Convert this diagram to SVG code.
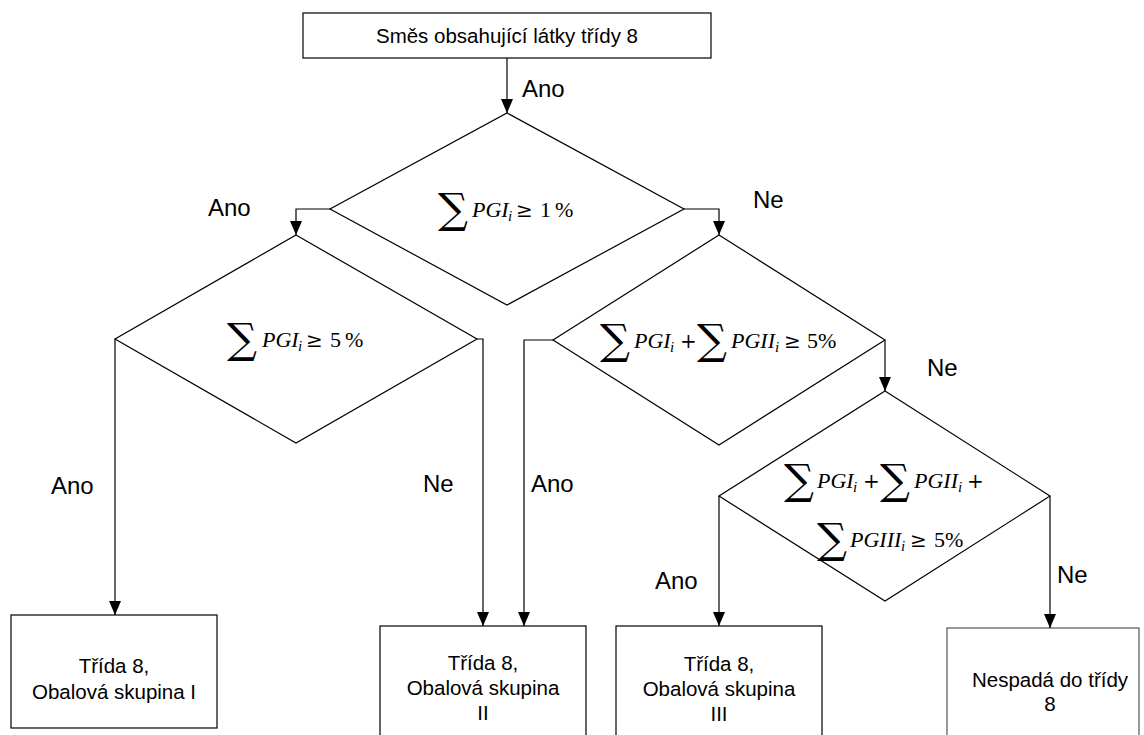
<svg xmlns="http://www.w3.org/2000/svg" width="1144" height="735" viewBox="0 0 1144 735">
<style>
.shape{fill:#fff;stroke:#000;stroke-width:1.2}
.conn{fill:none;stroke:#000;stroke-width:1.2}
.t{font-family:"Liberation Sans",Arial,sans-serif;font-size:20.5px;fill:#000;text-anchor:middle}
.lbl{font-family:"Liberation Sans",Arial,sans-serif;font-size:24px;fill:#000}
.m{font-family:"Liberation Serif","Times New Roman",serif;font-size:22px;fill:#000}
.it{font-style:italic}
.sub{font-style:italic;font-size:15px}
.op{font-family:"DejaVu Serif",serif;font-size:20px}
.sig{font-family:"DejaVu Serif",serif;font-size:42px}
</style>
<defs>
<marker id="ah" markerUnits="userSpaceOnUse" markerWidth="14" markerHeight="12" refX="14" refY="6" orient="auto">
<path d="M0,0 L14,6 L0,12 z" fill="#000"/>
</marker>
</defs>

<g id="start">
<rect class="shape" x="303" y="13" width="408" height="45"/>
<text class="t" x="507" y="43">Směs obsahující látky třídy 8</text>
</g>

<g id="d1">
<polygon class="shape" points="507,113 684,209 507,305 330,209"/>
<text class="m"><tspan class="sig" x="438" y="223">∑</tspan><tspan class="it" x="472" y="217">PGI</tspan><tspan class="sub" x="508" y="221">i</tspan><tspan class="op" x="516" y="217">≥</tspan><tspan x="540" y="217">1</tspan><tspan x="555" y="217">%</tspan></text>
</g>

<g id="d2">
<polygon class="shape" points="296,235 477,339 296,443 115,339"/>
<text class="m"><tspan class="sig" x="227" y="353">∑</tspan><tspan class="it" x="262" y="347">PGI</tspan><tspan class="sub" x="298" y="351">i</tspan><tspan class="op" x="306" y="347">≥</tspan><tspan x="330" y="347">5</tspan><tspan x="345" y="347">%</tspan></text>
</g>

<g id="d3">
<polygon class="shape" points="719,235 885,340 719,445 553,340"/>
<text class="m"><tspan class="sig" x="600" y="354">∑</tspan><tspan class="it" x="634" y="348">PGI</tspan><tspan class="sub" x="670" y="352">i</tspan><tspan class="op" x="680" y="348">+</tspan><tspan class="sig" x="697" y="354">∑</tspan><tspan class="it" x="731" y="348">PGII</tspan><tspan class="sub" x="775" y="352">i</tspan><tspan class="op" x="784" y="348">≥</tspan><tspan x="807" y="348">5%</tspan></text>
</g>

<g id="d4">
<polygon class="shape" points="885,391 1050,496 885,601 719,496"/>
<text class="m"><tspan class="sig" x="784" y="494">∑</tspan><tspan class="it" x="817" y="488">PGI</tspan><tspan class="sub" x="853" y="492">i</tspan><tspan class="op" x="863" y="488">+</tspan><tspan class="sig" x="880" y="494">∑</tspan><tspan class="it" x="914" y="488">PGII</tspan><tspan class="sub" x="958" y="492">i</tspan><tspan class="op" x="967" y="488">+</tspan></text>
<text class="m"><tspan class="sig" x="817" y="553">∑</tspan><tspan class="it" x="850" y="547">PGIII</tspan><tspan class="sub" x="901" y="551">i</tspan><tspan class="op" x="910" y="547">≥</tspan><tspan x="934" y="547">5%</tspan></text>
</g>

<g id="r1">
<rect class="shape" x="11" y="615" width="206" height="113"/>
<text class="t"><tspan x="114" y="673">Třída 8,</tspan><tspan x="114" y="699">Obalová skupina I</tspan></text>
</g>

<g id="r2">
<rect class="shape" x="380" y="626" width="206" height="120"/>
<text class="t"><tspan x="483" y="670">Třída 8,</tspan><tspan x="483" y="695">Obalová skupina</tspan><tspan x="483" y="720">II</tspan></text>
</g>

<g id="r3">
<rect class="shape" x="616" y="626" width="206" height="120"/>
<text class="t"><tspan x="719" y="671">Třída 8,</tspan><tspan x="719" y="696">Obalová skupina</tspan><tspan x="719" y="721">III</tspan></text>
</g>

<g id="r4">
<rect class="shape" x="947" y="628" width="192" height="120" style="stroke:#555"/>
<text class="t"><tspan x="1050" y="687">Nespadá do třídy</tspan><tspan x="1050" y="711">8</tspan></text>
</g>

<g id="connectors">
<path class="conn" d="M507,58 V113" marker-end="url(#ah)"/>
<path class="conn" d="M330,209 H296 V235" marker-end="url(#ah)"/>
<path class="conn" d="M684,209 H719 V235" marker-end="url(#ah)"/>
<path class="conn" d="M115,339 V615" marker-end="url(#ah)"/>
<path class="conn" d="M477,339 H483 V626" marker-end="url(#ah)"/>
<path class="conn" d="M553,340 H524 V626" marker-end="url(#ah)"/>
<path class="conn" d="M885,340 V391" marker-end="url(#ah)"/>
<path class="conn" d="M719,496 V626" marker-end="url(#ah)"/>
<path class="conn" d="M1050,496 V628" marker-end="url(#ah)"/>
<text class="lbl" x="522" y="97">Ano</text>
<text class="lbl" x="208" y="216">Ano</text>
<text class="lbl" x="753" y="208">Ne</text>
<text class="lbl" x="927" y="376">Ne</text>
<text class="lbl" x="51" y="494">Ano</text>
<text class="lbl" x="423" y="492">Ne</text>
<text class="lbl" x="531" y="492">Ano</text>
<text class="lbl" x="655" y="589">Ano</text>
<text class="lbl" x="1057" y="583">Ne</text>
</g>
</svg>
